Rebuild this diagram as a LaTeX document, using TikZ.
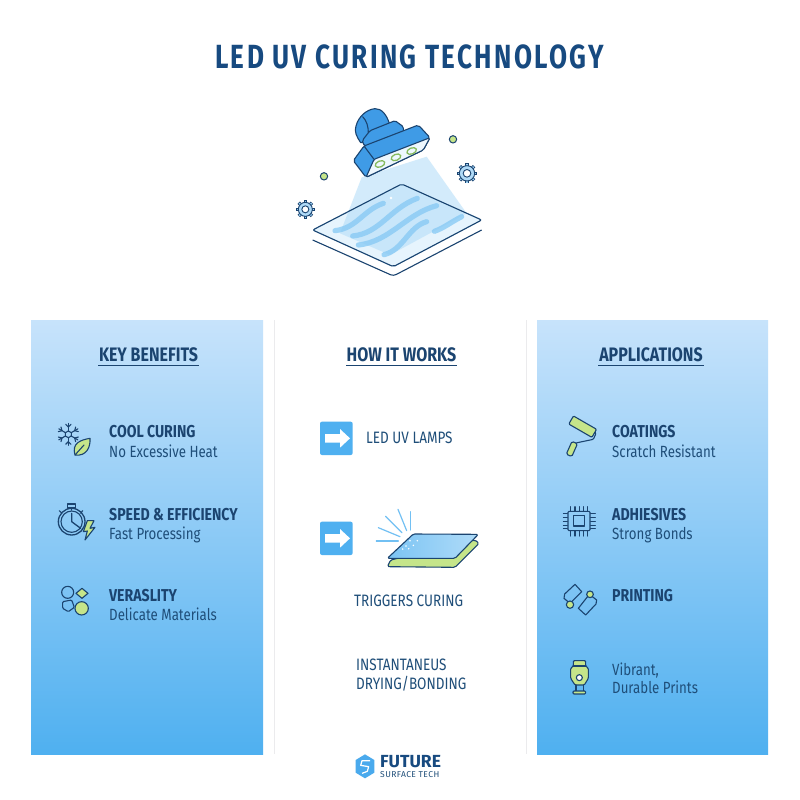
\documentclass[tikz,border=0pt]{standalone}
\usepackage{fontspec}
\setmainfont[FakeStretch=0.82]{Fira Sans}
\newfontfamily\titlefont[FakeStretch=0.78,LetterSpace=7]{Fira Sans}
\newfontfamily\logofont{Fira Sans}
\newfontfamily\logosub[LetterSpace=5]{Fira Sans}
\definecolor{navy}{HTML}{1B4470}
\definecolor{ink}{HTML}{1F4E79}
\definecolor{title}{HTML}{174A80}
\definecolor{midblue}{HTML}{3F9BE6}
\definecolor{sky}{HTML}{4FB0F0}
\definecolor{lime}{HTML}{C5E58A}
\definecolor{paneltop}{HTML}{C7E3FB}
\tikzset{
  head/.style={font=\bfseries\fontsize{19.5}{20}\selectfont,text=navy,anchor=base,inner sep=0pt},
  itemhead/.style={font=\bfseries\fontsize{17.2}{18}\selectfont,text=navy,anchor=base west,inner sep=0pt},
  itemsub/.style={font=\fontsize{16.2}{17}\selectfont,text=ink,anchor=base west,inner sep=0pt},
  midtext/.style={font=\fontsize{16.5}{17}\selectfont,text=ink,anchor=base west,inner sep=0pt},
  ico/.style={draw=navy,line width=1.1pt,line join=round,line cap=round},
  bgline/.style={draw=blue!6!gray!15,line width=1pt},
  wave/.style={draw=sky!70,line width=5.2pt,line cap=round,opacity=.75},
}
\begin{document}
\begin{tikzpicture}[x=1pt,y=-1pt,every node/.style={inner sep=0pt}]
\useasboundingbox (0,0) rectangle (800,800);
\fill[white] (0,0) rectangle (800,800);
% title
\node[font=\titlefont\bfseries\fontsize{33.5}{34}\selectfont,text=title,anchor=base] (ttl) at (409.5,68.5) {LED UV CURING TECHNOLOGY};
% panels
\shade[top color=paneltop,bottom color=sky] (31,320) rectangle (263,754);
\shade[top color=paneltop,bottom color=sky] (537,320) rectangle (768,754);
\draw[bgline] (274,320) -- (274,754);
\draw[bgline] (526,320) -- (526,754);
% column heads
\node[head] (h1) at (148.5,361) {KEY BENEFITS};
\draw[navy,line width=1pt] (98,365.5) -- (199,365.5);
\node[head] (h2) at (401.5,361) {HOW IT WORKS};
\draw[navy,line width=1pt] (346,365.5) -- (457,365.5);
\node[head] (h3) at (651,361) {APPLICATIONS};
\draw[navy,line width=1pt] (598,365.5) -- (704,365.5);
% left items
\node[itemhead] (a1) at (109,437) {COOL CURING};
\node[itemsub] (a2) at (109,457) {No Excessive Heat};
\node[itemhead] (a3) at (109,520) {SPEED \& EFFICIENCY};
\node[itemsub] (a4) at (109,539) {Fast Processing};
\node[itemhead] (a5) at (109,601) {VERASLITY};
\node[itemsub] (a6) at (109,620) {Delicate Materials};
% right items
\node[itemhead] (c1) at (612,437) {COATINGS};
\node[itemsub] (c2) at (612,457) {Scratch Resistant};
\node[itemhead] (c3) at (612,520) {ADHIESIVES};
\node[itemsub] (c4) at (612,539) {Strong Bonds};
\node[itemhead] (c5) at (612,601) {PRINTING};
\node[itemsub] (c6) at (612,675) {Vibrant,};
\node[itemsub] (c7) at (612,693) {Durable Prints};
% middle
\node[midtext] (m1) at (366,443) {LED UV LAMPS};
\node[midtext] (m2) at (354,606) {TRIGGERS CURING};
\node[midtext] (m3) at (356,670) {INSTANTANEUS};
\node[midtext] (m4) at (356,689) {DRYING/BONDING};
% middle icons
\begin{scope}[shift={(300,400)},scale=1/3]
 \foreach \yy in {65,365}{
  \fill[sky,rounded corners=2pt] (60,\yy) rectangle (158,\yy+100);
  \fill[white] (75,\yy+37) -- (120,\yy+37) -- (120,\yy+22) -- (150,\yy+50) -- (120,\yy+78) -- (120,\yy+63) -- (75,\yy+63) -- cycle;
 }
 \draw[ico,fill=lime,rounded corners=1.5pt] (272,480) -- (262,500) -- (465,502) -- (537,430) -- (525,420) -- cycle;
 \draw[ico,left color=sky!75,right color=sky!45,rounded corners=1.5pt] (262,475) -- (340,402) -- (535,403) -- (465,475) -- cycle;
 \foreach \a/\b/\c/\d in {332/335/332/390, 294/328/320/392, 257/349/306/398, 235/383/300/410, 229/423/295/423}
   \draw[sky!80,line width=1.2pt,line cap=round] (\a,\b) -- (\c,\d);
 \foreach \a/\b in {330/422,352/422,318/438,340/436,326/446,308/447}
   \fill[white] (\a,\b) circle (2.5);
\end{scope}
% lamp illustration
\begin{scope}[shift={(280,90)},scale=1/3]
 \draw[sky!35,line width=1pt,fill=sky!14,rounded corners=2pt] (98,420) -- (365,282) -- (605,390) -- (340,530) -- cycle;
 \fill[sky!45,opacity=.55] (245,262) -- (440,200) -- (560,370) -- (330,495) -- (180,430) -- cycle;
 \draw[wave] (165,422) .. controls (230,415) and (250,360) .. (310,340);
 \draw[wave] (218,438) .. controls (300,430) and (330,355) .. (412,325);
 \draw[wave] (235,465) .. controls (330,455) and (380,370) .. (470,347);
 \draw[wave] (312,494) .. controls (370,480) and (385,410) .. (440,395);
 \draw[wave] (463,424) .. controls (490,415) and (515,395) .. (545,380);
 \draw[navy,line width=1.1pt,rounded corners=2pt] (98,420) -- (365,282) -- (605,390) -- (340,530) -- cycle;
 \draw[navy,line width=1.1pt,rounded corners=3pt] (98,450) -- (340,558) -- (605,420);
 \fill[white] (333,324) circle (4);
 % specks
 \draw[navy,line width=1pt,fill=lime] (519,148) circle (11);
 \draw[navy,line width=1pt,fill=lime] (132,259) circle (11);
 % gears
 \foreach \cx/\cy/\rr in {561/250/23,76/358/21}{
  \begin{scope}[shift={(\cx,\cy)}]
   \foreach \t in {0,45,...,315}
     \draw[navy,line width=3.4pt,rotate=\t] (\rr,0) -- (\rr+7,0);
   \foreach \t in {0,45,...,315}
     \draw[sky!55,line width=1.6pt,rotate=\t] (\rr-2,0) -- (\rr+5,0);
   \draw[navy,line width=.9pt,fill=sky!45] (0,0) circle (\rr);
   \draw[navy,line width=.9pt,fill=white] (0,0) circle (\rr*.5);
  \end{scope}
 }
\end{scope}
% lamp body
\begin{scope}[shift={(340,100)},scale=1/3]
 \draw[ico,fill=midblue] (62,128) .. controls (50,110) and (42,95) .. (48,78) .. controls (55,50) and (80,28) .. (105,26) .. controls (125,25) and (140,45) .. (148,70) -- (90,125) -- cycle;
 \draw[ico] (68,50) .. controls (80,62) and (85,80) .. (85,98);
 \draw[ico,fill=midblue,rounded corners=1.5pt] (68,130) -- (68,120) -- (90,92) -- (165,62) -- (190,80) -- (190,105) -- (90,150) -- cycle;
 \draw[ico,fill=midblue,rounded corners=2pt] (78,232) -- (40,182) -- (72,138) -- (235,75) -- (270,113) -- (250,150) -- cycle;
 \draw[ico,fill=sky!10,rounded corners=1.5pt] (78,232) -- (102,178) -- (270,113) -- (250,150) -- cycle;
 \draw[ico] (72,138) -- (102,178);
 \foreach \xx/\yy in {120/192,168/172,215/153}
   \draw[lime!85!green!80!black,line width=1.3pt,fill=sky!10,rotate around={22:(\xx,\yy)}] (\xx,\yy) ellipse (15 and 9);
\end{scope}
% left icons
\begin{scope}[shift={(30,400)},scale=1/3]
 \begin{scope}[shift={(115,103)}]
  \foreach \t in {0,60,...,300}{
   \draw[ico,rotate=\t] (0,10) -- (0,33);
   \draw[ico,rotate=\t] (0,22) -- (-8,30);
   \draw[ico,rotate=\t] (0,22) -- (8,30);
  }
  \draw[ico] (0,-10) -- (9,-5) -- (9,5) -- (0,10) -- (-9,5) -- (-9,-5) -- cycle;
 \end{scope}
 \draw[ico,fill=lime] (135,165) .. controls (125,130) and (150,120) .. (180,115) .. controls (182,140) and (170,170) .. (135,165) -- cycle;
 \draw[ico] (135,165) -- (162,135);
 \draw[ico,line width=1.3pt] (125,365) circle (40);
 \draw[ico] (125,365) circle (32);
 \draw[ico] (113,312) rectangle (137,324);
 \draw[ico] (125,324) -- (125,330);
 \draw[ico] (88,332) -- (96,340);
 \draw[ico] (158,332) -- (152,340);
 \draw[ico,line width=1.3pt] (125,340) -- (125,365) -- (152,385);
 \draw[ico,fill=lime] (172,362) -- (160,395) -- (172,393) -- (165,420) -- (195,382) -- (180,385) -- (192,362) -- cycle;
 \draw[ico] (113,577) circle (18);
 \draw[ico,fill=lime] (156,565) -- (174,580) -- (156,595) -- (138,580) -- cycle;
 \draw[ico,rounded corners=1pt] (98,605) -- (125,600) -- (133,622) -- (115,635) -- (98,625) -- cycle;
 \draw[ico,fill=lime] (155,625) circle (20);
\end{scope}
% right icons
\begin{scope}[shift={(540,400)},scale=1/3]
 \draw[ico,rounded corners=1pt] (155,85) -- (168,100) -- (160,118) -- (112,128) -- (100,132);
 \draw[ico,fill=lime,rounded corners=1pt,rotate around={-30:(128,80)}] (88,66) rectangle (168,94);
 \draw[ico,fill=lime,rounded corners=1.5pt,rotate around={-24:(96,146)}] (87,126) rectangle (105,168);
 \draw[ico,rounded corners=1pt] (84,334) rectangle (150,392);
 \draw[ico] (100,347) rectangle (134,378);
 \foreach \xx in {92,105,118,131,143}{
  \draw[ico] (\xx,320) -- (\xx,332);
  \draw[ico] (\xx,394) -- (\xx,408);
 }
 \foreach \yy in {340,352,364,376,386}{
  \draw[ico] (70,\yy) -- (82,\yy);
  \draw[ico] (152,\yy) -- (166,\yy);
 }
 \draw[ico] (90,610) -- (72,595) -- (74,582) -- (105,553) -- (125,575) -- (90,610);
 \draw[ico] (148,583) -- (170,600) -- (168,612) -- (137,645) -- (115,625) -- (148,583);
 \draw[ico,fill=lime] (90,614) circle (11);
 \draw[ico,fill=lime] (150,583) circle (10);
 \draw[ico,fill=lime,rounded corners=1pt] (100,782) -- (137,782) -- (137,798) -- (145,805) -- (145,835) -- (133,855) -- (105,855) -- (92,835) -- (92,805) -- (100,798) -- cycle;
 \draw[ico] (100,798) -- (137,798);
 \draw[ico,fill=white] (118,833) circle (9);
 \draw[ico] (108,855) -- (108,872);
 \draw[ico] (130,855) -- (130,872);
 \draw[ico,fill=lime,rounded corners=1pt] (99,873) rectangle (137,882);
\end{scope}
% logo
\begin{scope}[shift={(340,740)},scale=1/3]
 \fill[sky!70!midblue] (75,43) -- (103,60) -- (103,98) -- (75,115) -- (47,98) -- (47,60) -- cycle;
 \draw[white,line width=1.2pt,line join=round] (90,62) -- (66,62) -- (62,76) -- (86,80) -- (82,94) -- (66,100);
\end{scope}
\node[font=\logofont\bfseries\fontsize{17.5}{18}\selectfont,text=title,anchor=base west] (lg1) at (380,767) {FUTURE};
\node[font=\logosub\fontsize{8.5}{9}\selectfont,text=ink,anchor=base west] (lg2) at (380,777.5) {SURFACE TECH};
\end{tikzpicture}
\end{document}
